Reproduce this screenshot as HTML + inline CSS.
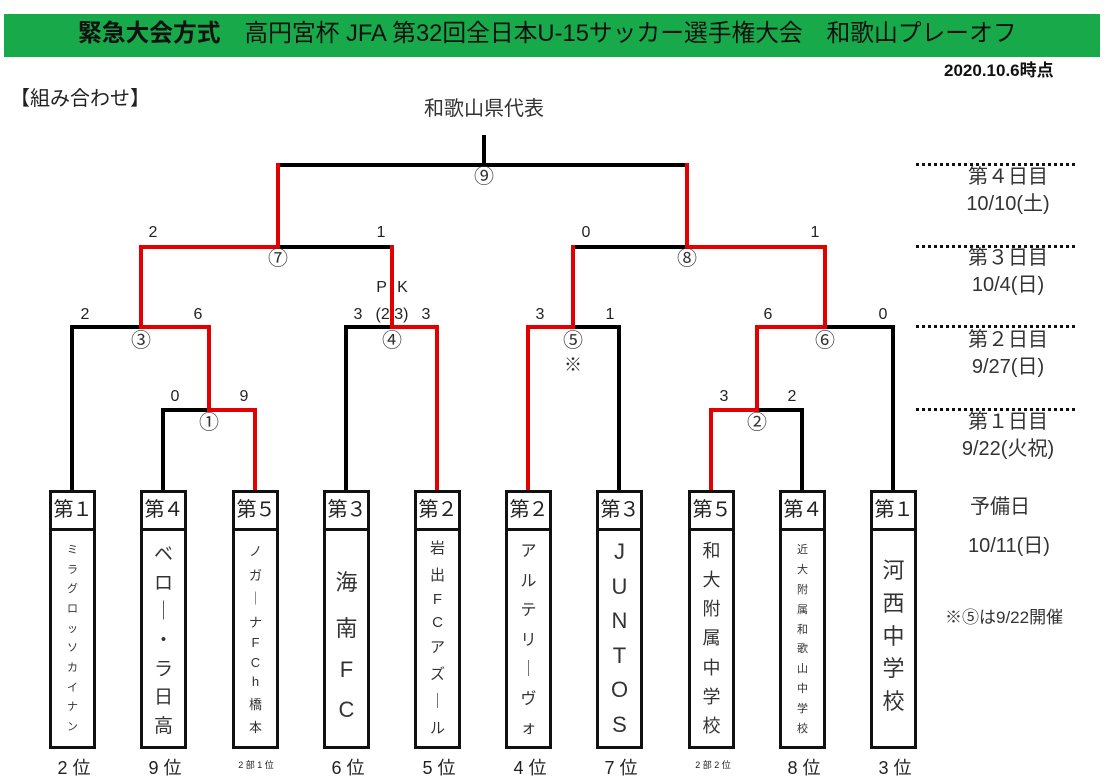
<!DOCTYPE html>
<html><head><meta charset="utf-8"><style>
body{margin:0;width:1107px;height:782px;background:#fff;position:relative;overflow:hidden;font-family:"Liberation Sans","Noto Sans CJK JP",sans-serif;color:#222}
.a{position:absolute;white-space:nowrap;line-height:1}
.c{transform:translateX(-50%)}
.box{position:absolute;top:490px;width:41px;height:253px;border:3px solid #111;background:#fff}
.hd{height:35px;border-bottom:3px solid #111;font-size:20px;line-height:35px;text-align:center;letter-spacing:-1px}
.nm{position:absolute;top:42px;bottom:4px;left:0;right:0;display:flex;flex-direction:column;justify-content:space-between;align-items:center;color:#333}
.rk{position:absolute;top:754px;font-size:18px;transform:translateX(-50%)}
.sm{font-size:9px;top:758px}
.sc{font-size:16px}
.dl{position:absolute;left:916px;width:159px;border-top:3px dotted #111}
.dy{position:absolute;left:928px;width:160px;text-align:center;font-size:20px;line-height:27px;color:#333}
</style></head><body>
<div style="position:absolute;left:4px;top:14px;width:1096px;height:43px;background:#17a94a"></div>
<div class="a" style="left:78px;top:22px;font-size:24px;color:#111;transform:scaleX(0.99);transform-origin:left"><b>緊急大会方式</b>　高円宮杯 JFA 第32回全日本U-15サッカー選手権大会　和歌山プレーオフ</div>
<div class="a" style="left:944px;top:62px;font-size:17px;font-weight:bold;color:#111">2020.10.6時点</div>
<div class="a" style="left:10px;top:89px;font-size:20px">【組み合わせ】</div>
<div class="a c" style="left:484px;top:99px;font-size:20px;color:#333">和歌山県代表</div>

<svg width="1107" height="782" style="position:absolute;left:0;top:0" fill="none" stroke-width="4" stroke-linecap="square">
<g stroke="#000">
<path d="M484 137V165M278 165H687"/>
<path d="M72 490V327H141M163 490V410H209M278 247H392M346 490V327H392"/>
<path d="M619 490V327H573M573 247H687M757 410H802V490M825 327H893V490"/>
</g>
<g stroke="#e30000">
<path d="M278 165V247H141V327H209V410H255V490M209 410V327"/>
<path d="M392 247V327H437V490"/>
<path d="M687 165V247H825V327H757V410H711V490M757 410V327"/>
<path d="M573 247V327H528V490"/>
</g>
</svg>
<div class="a c" style="left:484px;top:167px;font-size:20px;color:#333">⑨</div>
<div class="a c" style="left:278px;top:249px;font-size:20px;color:#333">⑦</div>
<div class="a c" style="left:687px;top:249px;font-size:20px;color:#333">⑧</div>
<div class="a c" style="left:141px;top:331px;font-size:20px;color:#333">③</div>
<div class="a c" style="left:392px;top:331px;font-size:20px;color:#333">④</div>
<div class="a c" style="left:573px;top:331px;font-size:20px;color:#333">⑤</div>
<div class="a c" style="left:573px;top:356px;font-size:18px;color:#333">※</div>
<div class="a c" style="left:825px;top:331px;font-size:20px;color:#333">⑥</div>
<div class="a c" style="left:209px;top:413px;font-size:20px;color:#333">①</div>
<div class="a c" style="left:757px;top:413px;font-size:20px;color:#333">②</div>
<div class="a c sc" style="left:153px;top:225px">2</div>
<div class="a c sc" style="left:381px;top:225px">1</div>
<div class="a c sc" style="left:586px;top:225px">0</div>
<div class="a c sc" style="left:815px;top:225px">1</div>
<div class="a c sc" style="left:85px;top:307px">2</div>
<div class="a c sc" style="left:198px;top:307px">6</div>
<div class="a c sc" style="left:358px;top:307px">3</div>
<div class="a c sc" style="left:392px;top:307px">(2 3)</div>
<div class="a c sc" style="left:426px;top:307px">3</div>
<div class="a c sc" style="left:392px;top:280px;word-spacing:6px">P K</div>
<div class="a c sc" style="left:540px;top:307px">3</div>
<div class="a c sc" style="left:610px;top:307px">1</div>
<div class="a c sc" style="left:768px;top:307px">6</div>
<div class="a c sc" style="left:883px;top:307px">0</div>
<div class="a c sc" style="left:175px;top:389px">0</div>
<div class="a c sc" style="left:244px;top:389px">9</div>
<div class="a c sc" style="left:724px;top:389px">3</div>
<div class="a c sc" style="left:792px;top:389px">2</div>
<div class="dl" style="top:163px"></div><div class="dl" style="top:245px"></div><div class="dl" style="top:325px"></div><div class="dl" style="top:408px"></div>
<div class="dy" style="top:164px">第４日目<br>10/10(土)</div>
<div class="dy" style="top:245px">第３日目<br>10/4(日)</div>
<div class="dy" style="top:327px">第２日目<br>9/27(日)</div>
<div class="dy" style="top:409px">第１日目<br>9/22(火祝)</div>
<div class="a" style="left:970px;top:497px;font-size:20px;color:#333">予備日</div>
<div class="a" style="left:968px;top:536px;font-size:20px;color:#333">10/11(日)</div>
<div class="a" style="left:945px;top:609px;font-size:17px;color:#333">※⑤は9/22開催</div>
<div class="box" style="left:49px"><div class="hd">第１</div><div class="nm" style="font-size:11px;padding:6px 0 8px"><span>ミ</span><span>ラ</span><span>グ</span><span>ロ</span><span>ッ</span><span>ソ</span><span>カ</span><span>イ</span><span>ナ</span><span>ン</span></div></div>
<div class="box" style="left:140px"><div class="hd">第４</div><div class="nm" style="font-size:19px;padding:4px 0"><span>ベ</span><span>ロ</span><span>｜</span><span>・</span><span>ラ</span><span>日</span><span>高</span></div></div>
<div class="box" style="left:232px"><div class="hd">第５</div><div class="nm" style="font-size:13px;padding:6px 0 6px"><span>ノ</span><span>ガ</span><span>｜</span><span>ナ</span><span>F</span><span>C</span><span>h</span><span>橋</span><span>本</span></div></div>
<div class="box" style="left:323px"><div class="hd">第３</div><div class="nm" style="font-size:22px;justify-content:flex-start;padding-top:30px;gap:14px"><span>海</span><span>南</span><span>F</span><span>C</span></div></div>
<div class="box" style="left:414px"><div class="hd">第２</div><div class="nm" style="font-size:15px;padding:2px 0 4px"><span>岩</span><span>出</span><span>F</span><span>C</span><span>ア</span><span>ズ</span><span>｜</span><span>ル</span></div></div>
<div class="box" style="left:505px"><div class="hd">第２</div><div class="nm" style="font-size:16px;padding:2px 0 4px"><span>ア</span><span>ル</span><span>テ</span><span>リ</span><span>｜</span><span>ヴ</span><span>ォ</span></div></div>
<div class="box" style="left:596px"><div class="hd">第３</div><div class="nm" style="font-size:22px;padding:4px 0"><span>J</span><span>U</span><span>N</span><span>T</span><span>O</span><span>S</span></div></div>
<div class="box" style="left:688px"><div class="hd">第５</div><div class="nm" style="font-size:18px;padding:2px 0 4px"><span>和</span><span>大</span><span>附</span><span>属</span><span>中</span><span>学</span><span>校</span></div></div>
<div class="box" style="left:779px"><div class="hd">第４</div><div class="nm" style="font-size:11px;padding:6px 0 6px"><span>近</span><span>大</span><span>附</span><span>属</span><span>和</span><span>歌</span><span>山</span><span>中</span><span>学</span><span>校</span></div></div>
<div class="box" style="left:870px"><div class="hd">第１</div><div class="nm" style="font-size:22px;padding:18px 0 26px"><span>河</span><span>西</span><span>中</span><span>学</span><span>校</span></div></div>
<div class="rk" style="left:74px">2 位</div>
<div class="rk" style="left:165px">9 位</div>
<div class="rk sm" style="left:256px">2 部 1 位</div>
<div class="rk" style="left:348px">6 位</div>
<div class="rk" style="left:439px">5 位</div>
<div class="rk" style="left:530px">4 位</div>
<div class="rk" style="left:621px">7 位</div>
<div class="rk sm" style="left:713px">2 部 2 位</div>
<div class="rk" style="left:804px">8 位</div>
<div class="rk" style="left:895px">3 位</div>
</body></html>
